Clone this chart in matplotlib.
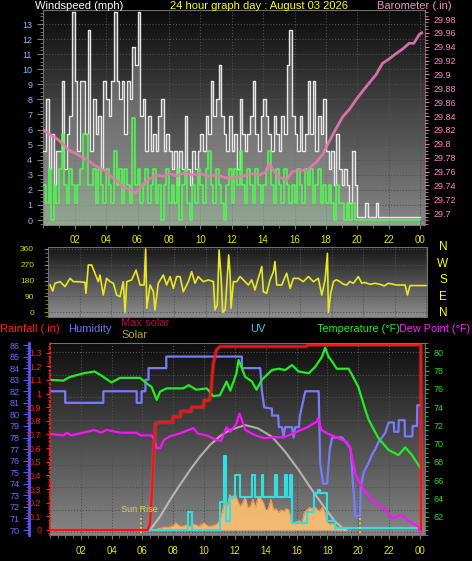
import numpy as np
import matplotlib.pyplot as plt
from matplotlib.colors import LinearSegmentedColormap
from matplotlib.ticker import MultipleLocator, FixedLocator

plt.rcParams['font.family'] = ['Liberation Sans', 'DejaVu Sans']

# ---- top panel: wind speed (10 minute samples) and barometer ----
gust = [
    4.6, 8.0, 3.4, 5.7, 2.3, 4.6,
    4.6, 9.2, 3.4, 5.7, 6.9, 13.8,
    9.2, 4.6, 9.2, 9.2, 5.7, 12.6,
    4.6, 8.0, 5.7, 6.9, 3.4, 9.2,
    8.0, 6.9, 9.2, 13.8, 9.2, 8.0,
    9.2, 5.7, 9.2, 8.0, 11.5, 10.3,
    13.8, 6.9, 8.0, 4.6, 6.9, 4.6,
    5.7, 4.6, 6.9, 8.0, 4.6, 5.7,
    4.6, 3.4, 4.6, 2.3, 4.6, 3.4,
    6.9, 3.4, 2.3, 4.6, 3.4, 4.6,
    5.7, 4.6, 6.9, 5.7, 9.2, 6.9,
    8.0, 10.3, 6.9, 5.7, 4.6, 6.9,
    4.6, 5.7, 3.4, 8.0, 5.7, 4.6,
    5.7, 6.9, 9.2, 5.7, 4.6, 6.9,
    8.0, 6.9, 5.7, 4.6, 6.9, 5.7,
    4.6, 6.9, 5.7, 10.3, 12.6, 6.9,
    5.7, 4.6, 6.9, 4.6, 5.7, 9.2,
    5.7, 9.2, 4.6, 6.9, 5.7, 8.0,
    4.6, 3.4, 4.6, 2.3, 5.7, 3.4,
    2.3, 3.4, 2.3, 1.1, 4.6, 2.3,
    0.2, 0.2, 0.2, 1.1, 0.2, 0.2,
    0.2, 1.1, 0.2, 0.2, 0.2, 0.2,
    0.2, 0.2, 0.2, 0.2, 0.2, 0.2,
    0.2, 0.2, 0.2, 0.2, 0.2, 0.2,
]
avg = [
    2.3, 1.1, 3.4, 0.0, 2.3, 1.1,
    3.4, 5.7, 2.3, 1.1, 3.4, 2.3,
    1.1, 2.3, 3.4, 5.7, 5.7, 2.3,
    2.3, 3.4, 1.1, 3.4, 2.3, 1.1,
    3.4, 2.3, 1.1, 4.6, 2.3, 3.4,
    1.1, 3.4, 2.3, 1.1, 6.8, 2.3,
    3.4, 1.1, 2.3, 3.4, 1.1, 2.3,
    3.4, 1.1, 2.3, 0.0, 2.3, 3.4,
    1.1, 2.3, 1.1, 3.4, 0.0, 2.3,
    3.4, 1.1, 0.0, 2.3, 1.1, 3.4,
    2.3, 1.1, 3.4, 4.6, 2.3, 1.1,
    3.4, 2.3, 1.1, 0.0, 2.3, 3.4,
    1.1, 3.4, 2.3, 4.6, 2.3, 1.1,
    3.4, 2.3, 1.1, 3.4, 2.3, 1.1,
    2.3, 3.4, 4.6, 2.3, 1.1, 3.4,
    2.3, 1.1, 3.4, 2.3, 1.1, 2.3,
    1.1, 3.4, 2.3, 1.1, 3.4, 2.3,
    3.4, 1.1, 2.3, 3.4, 1.1, 2.3,
    1.1, 2.3, 1.1, 0.0, 2.3, 1.1,
    1.1, 0.0, 1.1, 0.0, 1.1, 0.0,
] + [0.0] * 24

baro_h = [0, 0.3, 0.7, 1.0, 1.4, 1.7, 2.1, 2.5, 2.8, 3.2, 3.6, 4.0, 4.45, 4.8,
          5.1, 5.5, 5.84, 6.15, 6.5, 6.8, 7.2, 7.6, 8.0, 8.5, 9.0, 9.5, 10.0,
          10.5, 11.0, 11.5, 12.0, 12.5, 13.0, 13.3, 13.8, 14.2, 14.4, 14.7,
          15.0, 15.5, 15.85, 16.3, 16.8, 17.4, 17.8, 18.2, 18.6, 19.07, 19.5,
          19.9, 20.3, 20.8, 21.2, 21.6, 22.0, 22.46, 22.9, 23.3, 23.6, 23.95, 24.1]
baro = [29.82, 29.815, 29.81, 29.805, 29.796, 29.79, 29.786, 29.78, 29.777,
        29.77, 29.765, 29.76, 29.75, 29.745, 29.737, 29.735, 29.729, 29.736,
        29.745, 29.75, 29.755, 29.753, 29.757, 29.754, 29.758, 29.755, 29.757,
        29.753, 29.755, 29.752, 29.75, 29.753, 29.755, 29.757, 29.755, 29.76,
        29.772, 29.76, 29.752, 29.748, 29.76, 29.762, 29.762, 29.774, 29.785,
        29.803, 29.82, 29.839, 29.85, 29.863, 29.875, 29.889, 29.90, 29.916,
        29.922, 29.930, 29.937, 29.945, 29.945, 29.958, 29.96]

# ---- middle panel: wind direction ----
wdir_h = [0.13, 0.30, 0.44, 0.76, 1.08, 1.40, 1.61, 1.93, 2.35, 2.41, 2.56, 2.77,
          2.98, 3.19, 3.30, 3.51, 3.72, 3.94, 4.15, 4.36, 4.57, 4.78, 4.89, 5.0,
          5.31, 5.59, 5.84, 6.10, 6.20, 6.27, 6.48, 6.69, 6.79, 7.0, 7.32, 7.53,
          7.75, 7.96, 8.17, 8.38, 8.59, 8.91, 9.12, 9.33, 9.54, 9.86, 10.18,
          10.50, 10.60, 10.75, 10.86, 10.98, 11.09, 11.24, 11.35, 11.47, 11.56,
          11.62, 11.77, 11.98, 12.19, 12.51, 12.72, 12.93, 13.14, 13.35, 13.57,
          13.67, 13.88, 14.10, 14.31, 14.41, 14.52, 14.84, 15.15, 15.37, 15.58,
          15.90, 16.21, 16.53, 16.85, 17.16, 17.38, 17.59, 17.74, 17.80, 17.95,
          18.12, 18.3, 18.54, 18.75, 18.96, 19.15, 19.39, 19.70, 19.92, 20.1,
          20.44, 20.75, 21.08, 21.35, 21.61, 22.14, 22.67, 22.82, 22.98, 24.0]
wdir = [155, 121, 165, 174, 146, 193, 174, 174, 170, 108, 269, 269,
        222, 174, 212, 98, 193, 174, 165, 98, 89, 174, 0, 174,
        184, 240, 155, 155, 360, 23, 155, 117, 13, 165, 212, 155,
        203, 136, 203, 203, 117, 174, 231, 165, 203, 174, 184,
        174, 13, 42, 354, 212, 0, 13, 155, 326, 212,
        23, 174, 174, 203, 174, 155, 184, 127, 193, 260,
        117, 108, 184, 231, 288, 155, 155, 222, 136, 193,
        193, 174, 203, 174, 193, 98, 184, 335, 0, 108,
        174, 185, 174, 160, 155, 175, 165, 203, 165, 170,
        159, 165, 159, 150, 165, 155, 155, 98, 152, 152]

# ---- bottom panel ----
rain_h = [0, 6.35, 6.5, 6.6, 6.75, 6.85, 7.1, 7.95, 8.0, 8.45, 8.5, 9.15, 9.2,
          9.95, 10.0, 10.35, 10.45, 10.6, 10.8, 11.03, 16.65, 16.7, 24.05, 24.06]
rain = [0, 0, 0.05, 0.25, 0.6, 0.78, 0.79, 0.79, 0.83, 0.83, 0.87, 0.87, 0.90,
        0.90, 0.95, 0.95, 1.02, 1.22, 1.32, 1.345, 1.345, 1.356, 1.356, 0]

hum_h = [0.0, 1.0, 1.0, 3.47, 3.47, 5.63, 5.63, 5.95, 5.95, 6.2, 6.2, 6.4, 6.4,
         7.55, 7.55, 12.45, 12.45, 13.64, 13.75, 13.9, 14.4, 14.4, 14.8, 14.85,
         15.05, 15.15, 15.25, 15.7, 15.8, 15.9, 16.15, 16.2, 16.56, 17.43, 17.52,
         17.72, 17.97, 18.15, 18.3, 18.95, 19.25, 19.5, 19.8, 20.1, 20.15, 20.35,
         20.66, 20.88, 21.1, 21.3, 21.74, 21.96, 22.3, 22.32, 22.6, 22.62, 23.0,
         23.02, 23.5, 23.52, 23.8, 23.82, 24.05]
hum = [82, 82, 81, 81, 82, 82, 81, 81, 82, 82, 83, 83, 84, 84, 85, 85, 84, 84,
       82, 80.6, 80.5, 79.9, 79.9, 78.9, 78.9, 78.0, 78.9, 78.9, 78.0, 78.9,
       78.9, 79.8, 82, 82, 75.8, 74.0, 74.0, 77.0, 78.0, 78.0, 77.5, 77.0, 71.2,
       71.2, 73.7, 75.0, 75.8, 76.5, 77.0, 77.6, 78.4, 79.3, 79.3, 78.5, 78.5,
       79.5, 79.5, 78.1, 78.1, 79.0, 79.0, 80.8, 80.8]

temp_h = [0, 0.12, 0.88, 1.3, 2.2, 2.9, 3.3, 4.0, 4.55, 5.85, 6.28, 6.6, 6.93,
          7.15, 7.58, 8.65, 9.0, 9.5, 10.17, 10.6, 11.03, 11.46, 11.7, 12.1,
          12.24, 12.67, 13.1, 13.4, 13.75, 14.4, 14.83, 15.26, 15.7, 16.13,
          16.78, 17.2, 17.64, 17.85, 18.07, 18.3, 18.6, 19.37, 19.6, 20.0,
          20.45, 20.67, 21.3, 21.96, 22.6, 23.04, 23.47, 23.9, 24.0]
temp = [77.0, 76.97, 76.9, 77.3, 77.7, 77.9, 77.5, 76.7, 77.2, 77.2, 76.6, 76.2,
        74.8, 75.7, 76.05, 76.05, 76.4, 75.9, 76.05, 75.2, 75.3, 76.8, 75.8,
        77.7, 79.16, 77.3, 76.8, 75.9, 77.0, 78.06, 78.2, 78.06, 78.6, 77.9,
        77.7, 78.4, 79.5, 80.5, 79.5, 79.0, 78.2, 78.2, 77.5, 76.2, 73.7, 72.6,
        70.6, 69.3, 68.75, 69.6, 68.75, 67.65, 67.4]

dew_h = [0, 0.12, 0.88, 1.1, 1.4, 2.9, 3.3, 3.7, 4.55, 5.6, 5.9, 6.6, 6.8, 6.93,
         7.15, 7.4, 7.8, 8.4, 9.3, 9.6, 10.17, 10.8, 11.1, 11.46, 11.7, 12.1,
         12.3, 12.67, 13.33, 13.9, 14.55, 15.2, 16.0, 16.7, 17.3, 17.4, 17.6,
         18.0, 18.7, 19.25, 19.45, 19.8, 20.2, 20.7, 21.1, 21.8, 22.2, 22.8,
         23.2, 23.9, 24.0]
dew = [71.0, 71.05, 70.9, 71.2, 70.9, 71.5, 71.2, 71.5, 71.2, 71.2, 70.9, 70.9,
       70.4, 69.5, 69.5, 70.4, 70.8, 71.1, 71.7, 71.1, 70.9, 70.4, 70.3, 71.8,
       71.3, 72.2, 73.3, 71.5, 70.9, 70.6, 70.7, 70.7, 71.3, 71.8, 72.4, 72.8,
       71.5, 71.1, 70.6, 70.2, 69.66, 66.7, 65.3, 64.2, 63.5, 62.7, 61.8, 62.2,
       61.6, 60.9, 60.3]

solar_start = 7.0
solar = [
    10, 15, 20, 25, 20, 30,
    35, 60, 40, 30, 35, 40,
    30, 35, 50, 40, 30, 45,
    60, 40, 30, 35, 40, 50,
    80, 150, 250, 200, 300, 260,
    310, 250, 200, 230, 280, 190,
    200, 260, 190, 280, 270, 230,
    170, 180, 260, 170, 180, 150,
    170, 160, 180, 170, 70, 60,
    70, 80, 60, 150, 170, 190,
    180, 200, 170, 160, 190, 150,
    60, 50, 55, 40, 20, 15,
    10, 5, 0,
]
maxsol_h = [6.49, 7.14, 7.79, 8.43, 9.09, 9.73, 10.38, 11.03, 11.68, 12.33,
            12.67, 13.5, 14.4, 15.26, 16.13, 17.0, 17.85, 18.5, 19.15]
maxsol = [0, 113, 254, 381, 508, 620, 719, 795, 846, 874, 888, 860, 789, 662,
          508, 338, 183, 70, 0]

uv_h = [0, 8.95, 9.2, 11.0, 11.3, 11.45, 11.7, 12.0, 12.3, 12.5, 13.1, 13.3,
        13.75, 13.85, 14.6, 14.7, 15.26, 15.37, 15.6, 15.7, 16.7, 17.1, 17.4,
        17.5, 18.0, 18.5, 24.05]
uv = [0, 2, 0, 3, 8, 1, 3.6, 6, 3.6, 3.6, 6, 3.6, 6, 3.6, 6, 3.6, 6, 3.6, 6,
      0.8, 2, 4, 4.4, 4, 1, 0.2, 0.2]

sunrise, sunset = 5.9, 20.1
hour_ticks = list(range(2, 25, 2))
hour_labels = ['%02d' % (h % 24) for h in hour_ticks]

W, H = 472, 561
fig = plt.figure(figsize=(W / 100, H / 100), dpi=100, facecolor='black')


def box(l, t, r, b):
    return fig.add_axes([l / W, 1 - b / H, (r - l) / W, (b - t) / H])


def shade(ax, c_top, c_bot):
    cm = LinearSegmentedColormap.from_list('bg', [c_top, c_bot])
    ax.imshow(np.linspace(0, 1, 200).reshape(-1, 1), cmap=cm, aspect='auto',
              extent=(0, 1, 0, 1), transform=ax.transAxes, zorder=0,
              interpolation='bilinear')


def spines(ax, color='#707070', show=('left', 'right', 'top', 'bottom')):
    for k, s in ax.spines.items():
        s.set_visible(k in show)
        s.set_color(color)


YEL = '#e4e400'

# ---------- top panel ----------
ax1 = box(43.3, 10, 425, 225)
shade(ax1, '#0c0c0c', '#868686')
t10 = np.append(np.arange(len(gust)) / 6, 24.0)
g = np.append(gust, gust[-1])
a = np.append(avg, avg[-1])
ax1.fill_between(t10, g, -1, step='post', color='#a8a8a8', alpha=0.42, lw=0, zorder=2)
ax1.step(t10, g, where='post', color='#e8e8e8', lw=1.0, zorder=3)
ax1.fill_between(t10, a, -1, step='post', color='#90ff90', alpha=0.15, lw=0, zorder=4)
ax1.step(t10, a, where='post', color='#4cff4c', lw=1.1, zorder=5)
ax1.set_xlim(0, 24.31)
ax1.set_ylim(-0.33, 13.93)
ax1.yaxis.set_major_locator(MultipleLocator(1))
ax1.yaxis.set_minor_locator(MultipleLocator(0.25))
ax1.set_xticks(hour_ticks, hour_labels)
ax1.xaxis.set_minor_locator(MultipleLocator(1))
ax1.set_axisbelow(True)
ax1.grid(color='#505050', ls=':', lw=0.8)
ax1.tick_params(axis='y', which='both', colors='#808080', labelcolor='#80b8ff',
                labelsize=6.5, length=4, pad=4)
ax1.tick_params(axis='y', which='minor', length=2)
ax1.tick_params(axis='x', which='both', colors='#808080', labelcolor=YEL,
                labelsize=7, length=3, pad=4)
ax1.tick_params(axis='x', which='minor', length=2)
spines(ax1)

ax1b = ax1.twinx()
ax1b.plot(baro_h, baro, color='#e878b0', lw=2.0, alpha=0.9, zorder=6)
ax1b.set_ylim(29.683, 29.993)
bt = [round(29.70 + 0.02 * i, 2) for i in range(15)]
ax1b.yaxis.set_major_locator(FixedLocator(bt))
ax1b.set_yticklabels([('%.2f' % v).rstrip('0') for v in bt])
ax1b.yaxis.set_minor_locator(MultipleLocator(0.005))
ax1b.tick_params(axis='y', which='both', colors='#e878b0', labelcolor='#ff80c8',
                 labelsize=6.5, length=3, pad=3)
ax1b.tick_params(axis='y', which='minor', length=2)
spines(ax1b, show=())

fig.text(35 / W, 1 - 6 / H, 'Windspeed (mph)', color='white', fontsize=8,
         ha='left', va='center')
fig.text(259 / W, 1 - 6 / H, '24 hour graph day : August 03 2026', color='#ffff00',
         fontsize=8, ha='center', va='center')
fig.text(377 / W, 1 - 6 / H, 'Barometer (.in)', color='#ff88c8', fontsize=8,
         ha='left', va='center')

# ---------- wind direction panel ----------
ax2 = box(48, 246.5, 427, 317)
shade(ax2, '#141414', '#8e8e8e')
ax2.plot(wdir_h, wdir, color='#e8e820', lw=1.2, zorder=3)
ax2.set_xlim(0, 24.06)
ax2.set_ylim(-26.7, 374)
ax2.set_yticks([0, 90, 180, 270, 360])
ax2.yaxis.set_minor_locator(MultipleLocator(22.5))
ax2.set_xticks(hour_ticks)
ax2.set_xticklabels([])
ax2.set_axisbelow(True)
ax2.grid(color='#505050', ls=':', lw=0.8)
ax2.tick_params(axis='y', which='both', colors='#909000', labelcolor='#d8d800',
                labelsize=6, length=3, pad=7)
ax2.tick_params(axis='y', which='minor', length=2)
ax2.tick_params(axis='x', length=0)
spines(ax2)
for lab, y in zip(['N', 'W', 'S', 'E', 'N'], [247, 264, 280, 297, 313]):
    fig.text(443 / W, 1 - y / H, lab, color='#ffff00', fontsize=8.5,
             ha='center', va='center')

# ---------- bottom panel ----------
ax3 = box(49.8, 342.7, 425, 535)
shade(ax3, '#0e0e0e', '#868686')
sol_h = solar_start + np.arange(len(solar)) / 6
ax3.fill_between(sol_h, solar, 0, color='#ffc070', alpha=0.9, lw=0, zorder=2)
ax3.plot(sol_h, solar, color='#ff9a40', lw=0.8, zorder=2)
ax3.plot(maxsol_h, maxsol, color='#d0d0d0', lw=1.5, alpha=0.75, zorder=3)
ax3.set_xlim(0, 24.32)
ax3.set_ylim(-42, 1585)
ax3.set_yticks([])
ax3.set_xticks(hour_ticks, hour_labels)
ax3.xaxis.set_minor_locator(MultipleLocator(0.5))
ax3.set_axisbelow(True)
ax3.grid(axis='x', color='#505050', ls=':', lw=0.8)
for k in range(9):
    f = (535 - (352 + 22.5 * k)) / 192.3
    ax3.plot([0, 1], [f, f], transform=ax3.transAxes, color='#505050', ls=':',
             lw=0.8, zorder=1)
ax3.tick_params(axis='x', which='both', colors='#808080', labelcolor=YEL,
                labelsize=7, length=3, pad=5)
ax3.tick_params(axis='x', which='minor', length=2)
spines(ax3, show=('bottom', 'top'))

ax_uv = ax3.twinx()
ax_uv.step(uv_h, uv, where='post', color='#30e0e0', lw=1.5, zorder=4)
ax_uv.set_ylim(-0.54, 20.36)
ax_uv.axis('off')

ax_h = ax3.twinx()
ax_h.plot(hum_h, hum, color='#7a7aff', lw=1.6, zorder=5)
ax_h.set_ylim(69.57, 86.2)
ax_h.yaxis.tick_left()
ax_h.set_yticks(range(70, 87))
ax_h.yaxis.set_minor_locator(MultipleLocator(0.25))
spines(ax_h, color='#5555ff', show=('left',))
ax_h.spines['left'].set_position(('axes', -0.0554))
ax_h.spines['left'].set_linewidth(2)
ax_h.tick_params(axis='y', which='both', colors='#5555ff', labelcolor='#6a6aff',
                 labelsize=6.5, length=4, pad=3)
ax_h.tick_params(axis='y', which='minor', length=2)

ax_t = ax3.twinx()
ax_t.plot(temp_h, temp, color='#22ee22', lw=1.6, zorder=6)
ax_t.plot(dew_h, dew, color='#ff10ff', lw=1.6, zorder=6)
ax_t.set_ylim(60.0, 81.05)
ax_t.set_yticks(range(62, 81, 2))
ax_t.yaxis.set_minor_locator(MultipleLocator(0.5))
spines(ax_t, color='#707070', show=('right',))
ax_t.tick_params(axis='y', which='both', colors='#22cc22', labelcolor='#22dd22',
                 labelsize=6.5, length=3, pad=3)
ax_t.tick_params(axis='y', which='minor', length=2)

ax_r = ax3.twinx()
ax_r.plot(rain_h, rain, color='#ff6060', lw=3, alpha=0.25, zorder=7)
ax_r.plot(rain_h, rain, color='#ff1010', lw=1.6, zorder=8)
ax_r.set_ylim(-0.037, 1.373)
ax_r.yaxis.tick_left()
rt = [round(0.1 * i, 1) for i in range(14)]
ax_r.set_yticks(rt, [('%.1f' % v).replace('.0', '') if v in (0.0, 1.0) else '%.1f' % v
                     for v in rt])
ax_r.yaxis.set_minor_locator(MultipleLocator(0.025))
spines(ax_r, color='#ff2020', show=('left',))
ax_r.spines['left'].set_linestyle(':')
ax_r.spines['left'].set_linewidth(1.2)
ax_r.tick_params(axis='y', which='both', colors='#ff2020', labelcolor='#ff1818',
                 labelsize=6.5, length=3, pad=3)
ax_r.tick_params(axis='y', which='minor', length=1.5)
ax_r.plot([sunrise, sunrise], [-0.02, 0.11], color='#e8e820', lw=1.2, ls=':', zorder=9)
ax_r.plot([sunset, sunset], [-0.02, 0.11], color='#e8e820', lw=1.2, ls=':', zorder=9)
ax_r.text(sunrise - 0.1, 0.147, 'Sun Rise', color='#d8d860', fontsize=6.5,
          ha='center', va='center', zorder=9)

ly = 1 - 329 / H
fig.text(0 / W, ly, 'Rainfall (.in)', color='#ff2020', fontsize=8, va='center')
fig.text(68 / W, ly, 'Humidity', color='#7070ff', fontsize=8, va='center')
fig.text(121 / W, 1 - 323 / H, 'Max solar', color='#b0104a', fontsize=8, va='center')
fig.text(121 / W, 1 - 335 / H, 'Solar', color='#b8a820', fontsize=8, va='center')
fig.text(250 / W, ly, 'UV', color='#30d0e0', fontsize=8, va='center')
fig.text(317 / W, ly, 'Temperature (°F)', color='#22ee22', fontsize=7.8, va='center')
fig.text(399 / W, ly, 'Dew Point (°F)', color='#ff22ff', fontsize=7.8, va='center')

fig.savefig('out.png', dpi=100, facecolor='black')
